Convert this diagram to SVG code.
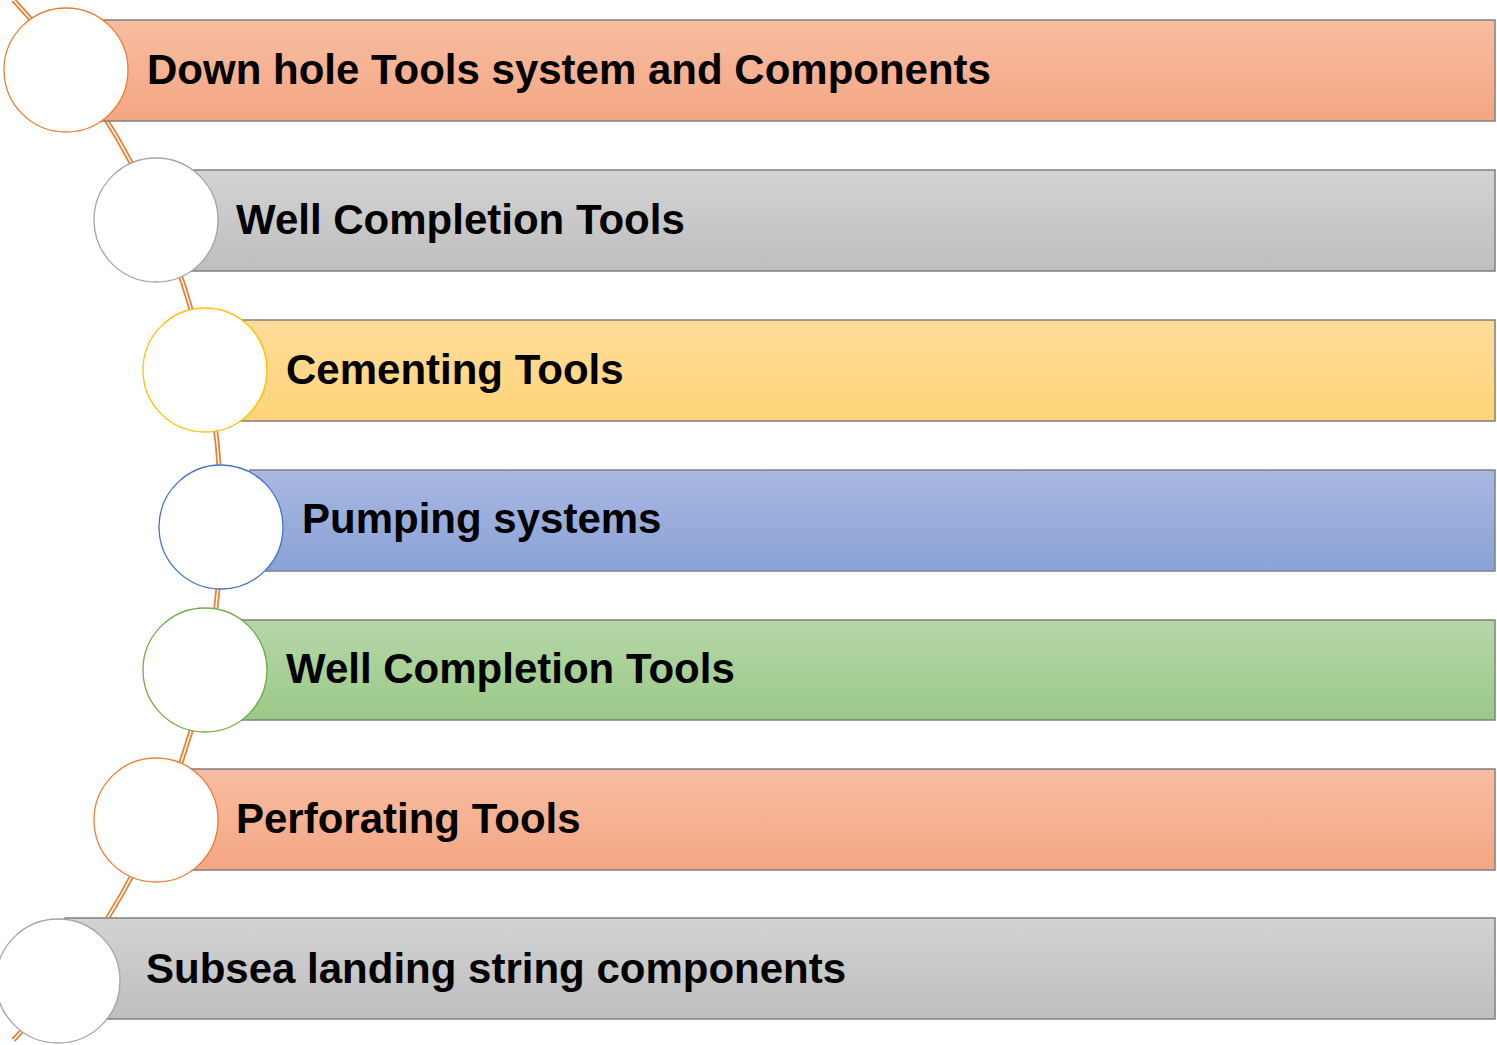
<svg xmlns="http://www.w3.org/2000/svg" width="1497" height="1045" viewBox="0 0 1497 1045">
<defs>
<linearGradient id="gOrange" x1="0" y1="0" x2="0" y2="1"><stop offset="0" stop-color="#F7BDA2"/><stop offset="1" stop-color="#F4A682"/></linearGradient>
<linearGradient id="gGray" x1="0" y1="0" x2="0" y2="1"><stop offset="0" stop-color="#D3D3D3"/><stop offset="1" stop-color="#BEBEBE"/></linearGradient>
<linearGradient id="gGold" x1="0" y1="0" x2="0" y2="1"><stop offset="0" stop-color="#FFDC9A"/><stop offset="1" stop-color="#FFD479"/></linearGradient>
<linearGradient id="gBlue" x1="0" y1="0" x2="0" y2="1"><stop offset="0" stop-color="#A9B8E1"/><stop offset="1" stop-color="#8AA2D6"/></linearGradient>
<linearGradient id="gGreen" x1="0" y1="0" x2="0" y2="1"><stop offset="0" stop-color="#B6D7A8"/><stop offset="1" stop-color="#9BC987"/></linearGradient>
</defs>
<style>
.bar{stroke:#7F7F7F;stroke-width:1.5}
.circ{fill:#FFFFFF;stroke-width:1.3}
.lbl{font-family:"Liberation Sans",Arial,sans-serif;font-weight:bold;font-size:42px;fill:#000000}
</style>
<g id="connectors">
<path d="M 13.4 0 A 755 755 0 0 1 13.4 1040" fill="none" stroke="#ED7D31" stroke-width="5"/>
<path d="M 13.4 0 A 755 755 0 0 1 13.4 1040" fill="none" stroke="#FFFFFF" stroke-width="1.5"/>
</g>
<g id="node1">
<rect class="bar" x="100" y="20" width="1395" height="101" fill="url(#gOrange)"/>
<circle class="circ" cx="66" cy="70" r="62" stroke="#ED7D31"/>
<text class="lbl" x="147" y="84">Down hole Tools system and Components</text>
</g>
<g id="node2">
<rect class="bar" x="190" y="170" width="1305" height="101" fill="url(#gGray)"/>
<circle class="circ" cx="156" cy="220" r="62" stroke="#A5A5A5"/>
<text class="lbl" x="236" y="234">Well Completion Tools</text>
</g>
<g id="node3">
<rect class="bar" x="240" y="320" width="1255" height="101" fill="url(#gGold)"/>
<circle class="circ" cx="205" cy="370" r="62" stroke="#FFC000"/>
<text class="lbl" x="286" y="384">Cementing Tools</text>
</g>
<g id="node4">
<rect class="bar" x="250" y="470" width="1245" height="101" fill="url(#gBlue)"/>
<circle class="circ" cx="221" cy="527" r="62" stroke="#4472C4"/>
<text class="lbl" x="302" y="533">Pumping systems</text>
</g>
<g id="node5">
<rect class="bar" x="240" y="620" width="1255" height="100" fill="url(#gGreen)"/>
<circle class="circ" cx="205" cy="670" r="62" stroke="#70AD47"/>
<text class="lbl" x="286" y="683">Well Completion Tools</text>
</g>
<g id="node6">
<rect class="bar" x="190" y="769" width="1305" height="101" fill="url(#gOrange)"/>
<circle class="circ" cx="156" cy="820" r="62" stroke="#ED7D31"/>
<text class="lbl" x="236" y="833">Perforating Tools</text>
</g>
<g id="node7">
<rect class="bar" x="65" y="918" width="1430" height="101" fill="url(#gGray)"/>
<circle class="circ" cx="58" cy="981" r="62" stroke="#A5A5A5"/>
<text class="lbl" x="146" y="983">Subsea landing string components</text>
</g>
</svg>
